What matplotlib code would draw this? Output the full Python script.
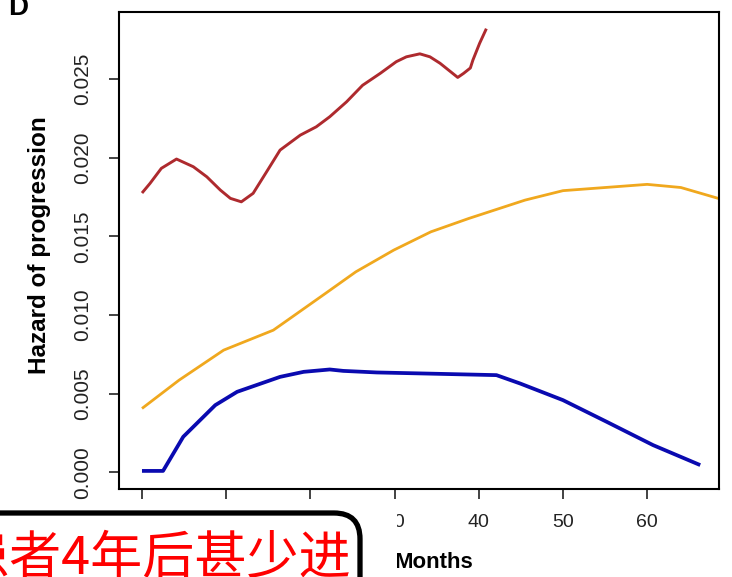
import matplotlib
matplotlib.use("Agg")
import matplotlib.pyplot as plt
from matplotlib import font_manager
from matplotlib.patches import FancyBboxPatch, Rectangle
from matplotlib.transforms import IdentityTransform

# hazard curves (months, hazard)
red_months = [0.0, 0.95, 2.3, 4.1, 6.1, 7.7, 9.3, 10.5, 11.8, 13.2, 14.8, 16.4, 18.8,
              20.7, 22.3, 24.3, 26.2, 28.3, 30.2, 31.4, 33.0, 34.2, 35.4, 37.5, 38.2,
              39.0, 39.3, 40.1, 40.9]
red_hazard = [0.01775, 0.01836, 0.01932, 0.01991, 0.01942, 0.01878, 0.01794, 0.01741,
              0.01719, 0.01773, 0.0191, 0.02048, 0.02143, 0.02196, 0.0226, 0.02355,
              0.0246, 0.02536, 0.0261, 0.02641, 0.0266, 0.02641, 0.0260, 0.0251,
              0.02536, 0.0257, 0.0262, 0.02727, 0.0282]

orange_months = [0.0, 4.4, 9.7, 15.6, 17.3, 21.8, 25.4, 29.9, 34.3, 38.8, 45.5, 50.0,
                 55.0, 60.0, 64.0, 68.5]
orange_hazard = [0.00405, 0.00585, 0.00776, 0.00903, 0.00967, 0.01137, 0.01274, 0.01412,
                 0.01528, 0.01613, 0.0173, 0.0179, 0.0181, 0.0183, 0.0181, 0.0174]

blue_months = [0.0, 2.5, 4.9, 8.7, 11.3, 16.4, 19.2, 22.3, 23.9, 27.9, 33.0, 42.1,
               44.9, 50.0, 55.2, 60.7, 66.3]
blue_hazard = [0.00008, 0.00008, 0.00225, 0.00426, 0.00511, 0.00606, 0.00638, 0.00653,
               0.00644, 0.00634, 0.00628, 0.00617, 0.00564, 0.00458, 0.0032, 0.00172,
               0.00045]

x_ticks = [0, 10, 20, 30, 40, 50, 60]
y_ticks = [0.0, 0.005, 0.010, 0.015, 0.020, 0.025]
y_tick_labels = ["0.000", "0.005", "0.010", "0.015", "0.020", "0.025"]

note_text = "患者4年后甚少进"

W, H = 732, 577

names = {f.name for f in font_manager.fontManager.ttflist}
if "Liberation Sans Narrow" in names:
    narrow = "Liberation Sans Narrow"
    xtick_size, xlab_size = 16, 18
else:
    narrow = "Liberation Sans"
    xtick_size, xlab_size = 14, 16
plt.rcParams["font.family"] = "Liberation Sans"

fig = plt.figure(figsize=(W / 100, H / 100), dpi=100)
ax = fig.add_axes([119 / W, 1 - 489 / H, 600 / W, 477 / H])

ax.plot(red_months, red_hazard, color="#AE2A2E", lw=2.1, solid_capstyle="butt")
ax.plot(orange_months, orange_hazard, color="#F0A81E", lw=2.0, solid_capstyle="butt")
ax.plot(blue_months, blue_hazard, color="#0A0AB0", lw=2.7, solid_capstyle="butt")

ax.set_xlim(-2.73, 68.53)
ax.set_ylim(-0.00107, 0.02926)
ax.set_xticks(x_ticks)
ax.set_xticklabels([str(v) for v in x_ticks], fontfamily=narrow, fontsize=xtick_size)
ax.set_yticks(y_ticks)
ax.set_yticklabels(y_tick_labels, fontsize=15, rotation=90, va="center")
ax.tick_params(axis="x", length=7, width=1.2, pad=11, colors="#222222")
ax.tick_params(axis="y", length=7, width=1.2, pad=12, colors="#222222")
for sp in ax.spines.values():
    sp.set_linewidth(1.5)

fig.text(40 / W, 1 - 245 / H, "Hazard of progression", rotation=90, fontsize=17.5,
         fontweight="bold", ha="center", va="center")
fig.text(434 / W, 1 - 568 / H, "Months", fontfamily=narrow, fontsize=xlab_size,
         fontweight="bold", ha="center", va="baseline")
fig.text(8 / W, 1 - 15 / H, "D", fontfamily=narrow, fontsize=20, fontweight="bold",
         ha="left", va="baseline")

# white overlay with the red note in a rounded box (bottom-left)
fig.add_artist(Rectangle((0, 0), 397, H - 505, transform=IdentityTransform(),
                         facecolor="white", edgecolor="none", zorder=5))
fig.add_artist(FancyBboxPatch((-60, -60), 420, H - 513 + 60,
                              boxstyle="round,pad=0,rounding_size=26",
                              transform=IdentityTransform(), facecolor="white",
                              edgecolor="black", linewidth=3.8, zorder=6))
fig.text(-43 / W, 3 / H, note_text, family=["Noto Sans CJK SC", "DejaVu Sans"],
         fontsize=37.5, color="#FF0000", ha="left", va="baseline", zorder=7)

fig.savefig("out.png", dpi=100)
